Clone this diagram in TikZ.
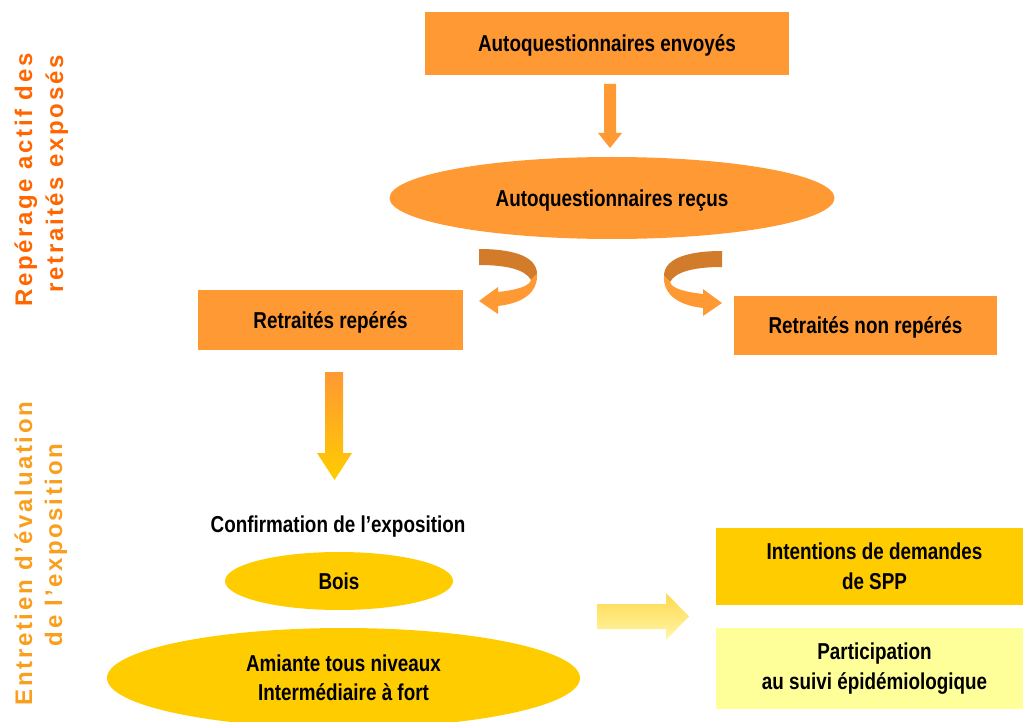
\documentclass[tikz,border=0pt]{standalone}
\usepackage{fontspec}
\setmainfont{Liberation Sans}
\newfontfamily\narrowfont[FakeStretch=0.82]{Liberation Sans}
\newfontfamily\widefont[LetterSpace=11]{Liberation Sans}
\usepackage{tikz}
\usetikzlibrary{shapes.geometric}

\definecolor{orangeA}{HTML}{FF9933}
\definecolor{orangeB}{HTML}{D27B2A}
\definecolor{orangeT}{HTML}{FF6600}
\definecolor{orangeU}{HTML}{FA9E1E}
\definecolor{jauneA}{HTML}{FFCC00}
\definecolor{jauneB}{HTML}{FFFF99}
\definecolor{jauneC}{HTML}{FFD84D}
\definecolor{jauneD}{HTML}{FFF7A8}

\tikzset{
  boite/.style={font=\narrowfont\bfseries\fontsize{23}{29.5}\selectfont,align=center,inner sep=0pt},
  ligne/.style={boite,text depth=0pt},
  titreA/.style={anchor=base,rotate=90,color=orangeT,font=\widefont\bfseries\fontsize{24}{28}\selectfont},
  titreB/.style={titreA,color=orangeU}
}

\begin{document}
\begin{tikzpicture}[x=1pt,y=-1pt]
		\clip (0,0) rectangle (1023,722);
		% titres verticaux
		\node (reperageA) at (32,180) [titreA] {Repérage actif des};
		\node (reperageB) at (63,174) [titreA] {retraités exposés};
		\node (entretienA) at (32,553.5) [titreB] {Entretien d’évaluation};
		\node (entretienB) at (62,545) [titreB] {de l’exposition};
		% repérage actif
		\node (envoyes) at (607,43.5) [ligne,fill=orangeA,minimum width=364,minimum height=63] {Autoquestionnaires envoyés};
		\fill [orangeA] (604,84)--(616,84)--(616,133)--(622,133)--(610,148)--(598,133)--(604,133)--cycle;
		\node (recus) at (612,198) [ligne,ellipse,fill=orangeA,minimum width=445,minimum height=82] {Autoquestionnaires reçus};
		\node (repere) at (330.5,320) [ligne,fill=orangeA,minimum width=265,minimum height=60] {Retraités repérés};
		\node (nonrepere) at (865.5,325.5) [ligne,fill=orangeA,minimum width=263,minimum height=59] {Retraités non repérés};
		% flèches courbes
		\fill [orangeB] (479,249) .. controls (517,249) and (537,258) .. (537,274)--(531,280) .. controls (525,269) and (505,265) .. (479,265)--cycle;
		\fill [orangeA] (537,274) .. controls (538,291) and (525,303) .. (498,306)--(498,314)--(479,301)--(498,287)--(498,292) .. controls (515,290) and (529,287) .. (531,280)--cycle;
		\begin{scope}[xshift=1201,xscale=-1,yshift=-2]
		\fill [orangeB] (479,249) .. controls (517,249) and (537,258) .. (537,274)--(531,280) .. controls (525,269) and (505,265) .. (479,265)--cycle;
		\fill [orangeA] (537,274) .. controls (538,291) and (525,303) .. (498,306)--(498,314)--(479,301)--(498,287)--(498,292) .. controls (515,290) and (529,287) .. (531,280)--cycle;
		\end{scope}
		% entretien
		\shade [top color=orangeA,bottom color=jauneA] (325,372)--(343,372)--(343,453)--(352,453)--(334.5,480)--(317,453)--(325,453)--cycle;
		\node (confirmation) at (338,532) [boite,anchor=base] {Confirmation de l’exposition};
		\node (bois) at (339,581) [ligne,ellipse,fill=jauneA,minimum width=228,minimum height=58] {Bois};
		\node (amiante) at (343.5,678) [boite,ellipse,fill=jauneA,minimum width=473,minimum height=100] {Amiante tous niveaux\\Intermédiaire à fort};
		\shade [top color=jauneC,bottom color=jauneD] (597,604)--(666,604)--(666,593)--(689,616.5)--(666,640)--(666,629)--(597,629)--cycle;
		\node (spp) at (874.5,566.5) [boite,fill=jauneA,minimum width=317,minimum height=77] {Intentions de demandes\\de SPP};
		\node (suivi) at (874.5,668.5) [boite,fill=jauneB,minimum width=317,minimum height=81] {Participation\\au suivi épidémiologique};
    \end{tikzpicture}
\end{document}
